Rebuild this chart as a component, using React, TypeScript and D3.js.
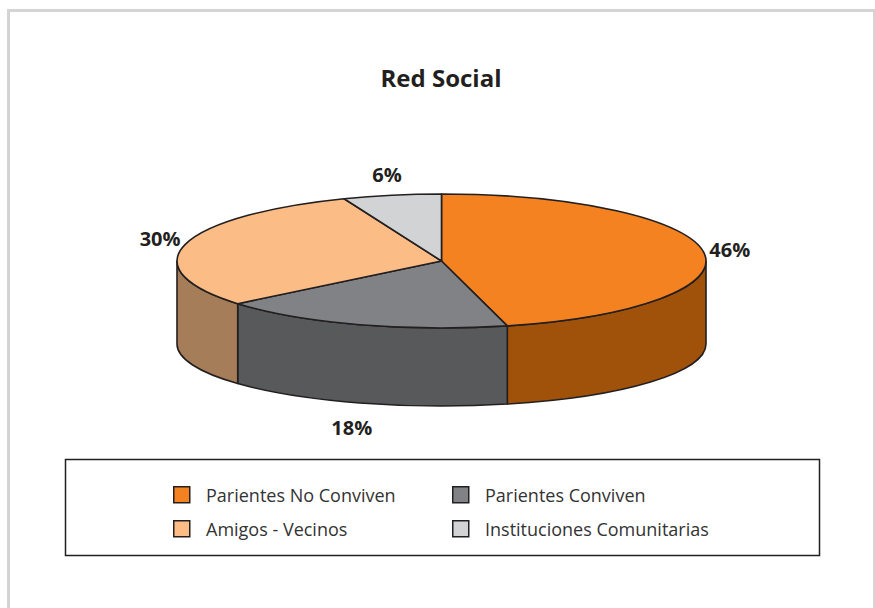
import { useMemo } from 'react';
import * as d3 from 'd3';

const categories = ['Parientes No Conviven', 'Parientes Conviven', 'Amigos - Vecinos', 'Instituciones Comunitarias'];
const values = [46, 18, 30, 6];
const topColors = ['#f58220', '#808285', '#fbbc85', '#d1d3d4'];
const sideColors = ['#a0520b', '#58595b', '#a57d58', '#a7a9ac'];
// legend is laid out in two columns, this is the drawing order
const legendOrder = [0, 1, 2, 3];

const W = 875;
const H = 608;
const FONT = "'Open Sans', 'DejaVu Sans', sans-serif";

const cx = 441.5;
const rx = 264.5;
const cyTop = 261;
const ryTop = 67;
const cyBot = 344;
const ryBot = 62;
const depth = cyBot - cyTop;
const STROKE = '#231f20';

const pt = (a: number, cy: number, ry: number): [number, number] => [cx + rx * Math.sin(a), cy - ry * Math.cos(a)];

export default function App() {
  const arcs = useMemo(
    () =>
      d3
        .pie<number>()
        .sort(null)
        .startAngle(0)
        .endAngle(2 * Math.PI)(values),
    []
  );

  const topPath = (a0: number, a1: number) => {
    const [x0, y0] = pt(a0, cyTop, ryTop);
    const [x1, y1] = pt(a1, cyTop, ryTop);
    const large = a1 - a0 > Math.PI ? 1 : 0;
    return `M${cx},${cyTop}L${x0},${y0}A${rx},${ryTop} 0 ${large} 1 ${x1},${y1}Z`;
  };

  const sidePath = (a0: number, a1: number) => {
    const s = Math.max(a0, Math.PI / 2);
    const e = Math.min(a1, (3 * Math.PI) / 2);
    if (e <= s) return null;
    const [tx0, ty0] = pt(s, cyTop, ryTop);
    const [tx1, ty1] = pt(e, cyTop, ryTop);
    const [bx0, by0] = pt(s, cyBot, ryBot);
    const [bx1, by1] = pt(e, cyBot, ryBot);
    return `M${tx0},${ty0}A${rx},${ryTop} 0 0 1 ${tx1},${ty1}L${bx1},${by1}A${rx},${ryBot} 0 0 0 ${bx0},${by0}Z`;
  };

  const colX = d3.scalePoint<number>().domain([0, 1]).range([173, 452]);
  const rowY = d3.scalePoint<number>().domain([0, 1]).range([486, 520]);

  return (
    <svg
      width={W}
      height={H}
      style={{ position: 'absolute', left: 0, top: 0, background: '#fff' }}
      fontFamily={FONT}
    >
      <rect x={8.5} y={10.5} width={866} height={640} fill="#fff" stroke="#d4d4d4" strokeWidth={3} />

      <text x={441} y={87} textAnchor="middle" fontSize={24} fontWeight={700} fill="#231f20">
        Red Social
      </text>

      <g stroke={STROKE} strokeWidth={1.6} strokeLinejoin="round">
        {arcs.map((a, i) => {
          const d = sidePath(a.startAngle, a.endAngle);
          return d ? <path key={`s${i}`} d={d} fill={sideColors[i]} /> : null;
        })}
        {arcs.map((a, i) => (
          <path key={`t${i}`} d={topPath(a.startAngle, a.endAngle)} fill={topColors[i]} />
        ))}
      </g>

      <g fontSize={20} fontWeight={700} fill="#231f20" textAnchor="middle">
        {arcs.map((a, i) => {
          const mid = (a.startAngle + a.endAngle) / 2;
          const front = Math.cos(mid) < 0;
          const x = cx + (rx + 26) * Math.sin(mid);
          const y = cyTop - (ryTop + 21) * Math.cos(mid) + (front ? depth : 0);
          return (
            <text key={`l${i}`} x={x} y={y} dy="0.36em">
              {values[i]}%
            </text>
          );
        })}
      </g>

      <rect x={65.5} y={459.5} width={754} height={96} fill="#fff" stroke={STROKE} strokeWidth={1.5} />
      <g>
        {legendOrder.map((k, j) => {
          const x = colX(j % 2)!;
          const y = rowY(Math.floor(j / 2))!;
          return (
            <g key={`lg${k}`} transform={`translate(${x},${y})`}>
              <rect x={0.75} y={0.75} width={16} height={16} fill={topColors[k]} stroke={STROKE} strokeWidth={1.5} />
              <text x={33} y={16} fontSize={18} fill="#333">
                {categories[k]}
              </text>
            </g>
          );
        })}
      </g>
    </svg>
  );
}
